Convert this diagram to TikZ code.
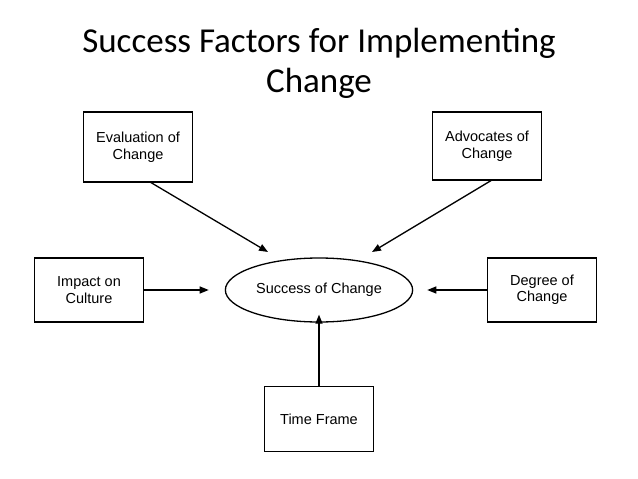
\documentclass[tikz,border=0pt]{standalone}
\usepackage{fontspec}
\setmainfont{Liberation Sans}
\newfontfamily\titlefont{Carlito}
\usetikzlibrary{shapes.geometric,arrows.meta}
\begin{document}
\begin{tikzpicture}[x=1pt,y=-1pt,
  box/.style={draw,line width=1.3pt,minimum width=109pt,minimum height=66pt,align=center,font=\fontsize{14.5}{16.5}\selectfont,inner sep=2pt},
  arr/.style={line width=1.3pt,-{Triangle[length=9pt,width=7pt]}}]
\useasboundingbox (0,0) rectangle (638,479);
\fill[white] (0,0) rectangle (638,479);
\node[font=\titlefont\fontsize{35}{40}\selectfont,align=center] (title) at (319,63) {Success Factors for Implementing\\Change};
\node[box,minimum height=70pt] (ev) at (138,147) {Evaluation of\\Change};
\node[box,minimum height=68pt] (ad) at (487,146) {Advocates of\\Change};
\node[box,minimum height=64pt] (im) at (89,290) {Impact on\\Culture};
\node[box,minimum height=64pt] (de) at (542,290) {Degree of\\Change};
\node[box,minimum height=65pt] (tf) at (319,419) {Time Frame};
\node[draw,ellipse,line width=1.3pt,minimum width=174pt,minimum height=64pt,font=\fontsize{14.5}{16.5}\selectfont] (sc) at (319,290) {Success of Change};
\coordinate (e1) at (150,182);
\coordinate (e2) at (268,252);
\coordinate (a1) at (492,180);
\coordinate (a2) at (372,252);
\draw[arr] (e1) -- (e2);
\draw[arr] (a1) -- (a2);
\draw[arr] (im.east) -- ([xshift=-16pt]sc.west);
\draw[arr] (de.west) -- ([xshift=14pt]sc.east);
\draw[arr] (tf.north) -- ([yshift=8pt]sc.south);
\end{tikzpicture}
\end{document}
